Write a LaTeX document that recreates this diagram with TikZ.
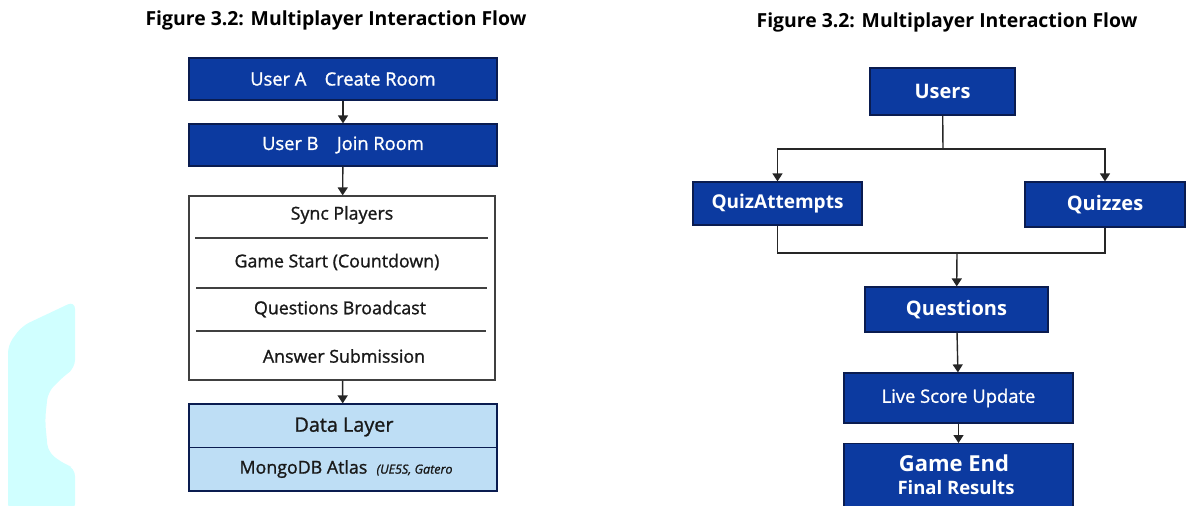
\documentclass[tikz,border=0pt]{standalone}
\usepackage{fontspec}
\setmainfont{Open Sans}
\newfontfamily\medfont[FakeBold=1.2]{Open Sans}
\usetikzlibrary{arrows.meta}

\definecolor{boxblue}{RGB}{12,58,160}
\definecolor{boxedge}{RGB}{10,28,80}
\definecolor{datablue}{RGB}{190,222,245}
\definecolor{ghost}{RGB}{208,255,255}

\tikzset{
  arr/.style={-{Triangle[length=8pt,width=10pt]}, line width=1.4pt, black!85},
  link/.style={line width=1.4pt, black!85},
  bluebox/.style={draw=boxedge, line width=1.2pt, fill=boxblue, text=white, inner sep=0pt},
  rowtext/.style={font=\medfont\fontsize{17.8}{20}\selectfont, text=black!90},
  figtitle/.style={font=\fontsize{19.4}{22}\selectfont\bfseries},
}

\begin{document}
\begin{tikzpicture}[x=1pt,y=-1pt]
\useasboundingbox (0,0) rectangle (1187,506);
\clip (0,0) rectangle (1187,506);

% faint cyan shape on the left edge
\fill[ghost, rounded corners=8] (8,512) -- (8,345) -- (22,326) -- (75,301) -- (75,368)
  -- (64,376) -- (48,392) -- (45,420) -- (48,452) -- (64,464) -- (75,468) -- (75,512) -- cycle;

% left flow
\node[figtitle] (titleL) at (336,20) {Figure 3.2: Multiplayer Interaction Flow};
\node[bluebox, minimum width=308, minimum height=42, font=\medfont\fontsize{18.3}{20}\selectfont] (roomA) at (343,79) {User A\quad Create Room};
\node[bluebox, minimum width=308, minimum height=42, font=\medfont\fontsize{18.3}{20}\selectfont] (roomB) at (343,145) {User B\quad Join Room};
\node[draw=black!75, line width=1.2pt, fill=white, minimum width=306, minimum height=184, inner sep=0pt] (sync) at (342,288) {};
\node[rowtext] (syncP) at (342,215) {Sync Players};
\node[rowtext] (start) at (337,262) {Game Start (Countdown)};
\node[rowtext] (bcast) at (340,309) {Questions Broadcast};
\node[rowtext] (answer) at (344,356) {Answer Submission};
\draw[black!75, line width=1.2pt] (195,238) -- (488,238);
\draw[black!75, line width=1.2pt] (196,288) -- (487,288);
\draw[black!75, line width=1.2pt] (196,331) -- (486,331);
\node[draw=boxedge, line width=1.2pt, fill=datablue, minimum width=308, minimum height=87, inner sep=0pt] (data) at (343,447.5) {};
\draw[boxedge, line width=1.2pt] (data.west) -- (data.east);
\node[rowtext, font=\medfont\fontsize{19.8}{22}\selectfont] (dlayer) at (344,427) {Data Layer};
\node[rowtext] (atlas) at (346,469) {MongoDB Atlas \ {\fontsize{12.5}{14}\selectfont\itshape (UE5S,~Gatero}};

\draw[arr] (roomA) -- (roomB);
\draw[arr] (roomB) -- (sync);
\draw[arr] (sync) -- (data);

% right flow
\node[figtitle] (titleR) at (947,22) {Figure 3.2: Multiplayer Interaction Flow};
\node[bluebox, minimum width=145, minimum height=47, font=\fontsize{20}{22}\selectfont\bfseries] (users) at (942.5,91.5) {Users};
\node[bluebox, minimum width=169, minimum height=43, font=\fontsize{19}{22}\selectfont\bfseries] (attempts) at (777.5,203.5) {QuizAttempts};
\node[bluebox, minimum width=160, minimum height=45, font=\fontsize{20}{22}\selectfont\bfseries] (quizzes) at (1105,204.5) {Quizzes};
\node[bluebox, minimum width=183, minimum height=45, font=\fontsize{20}{22}\selectfont\bfseries] (questions) at (956.5,309.5) {Questions};
\node[bluebox, minimum width=229, minimum height=50, font=\medfont\fontsize{18.4}{20}\selectfont] (score) at (958.5,398) {Live Score Update};
\node[bluebox, minimum width=229, minimum height=76, anchor=north] (gameend) at (958.5,443) {};
\node[text=white, font=\fontsize{22}{22}\selectfont\bfseries] (endA) at (954,463) {Game End};
\node[text=white, font=\fontsize{18.5}{20}\selectfont\bfseries] (endB) at (956,488) {Final Results};

\coordinate (split) at (943,149);
\coordinate (join) at (957,253);
\draw[link] (users) -- (split);
\draw[arr] (split) -| (attempts);
\draw[arr] (split) -| (quizzes);
\draw[link] (attempts.south) |- (join) -| (quizzes.south);
\draw[arr] (join) -- (questions);
\draw[arr] (questions) -- (score);
\draw[arr] (score) -- (gameend);
\end{tikzpicture}
\end{document}
